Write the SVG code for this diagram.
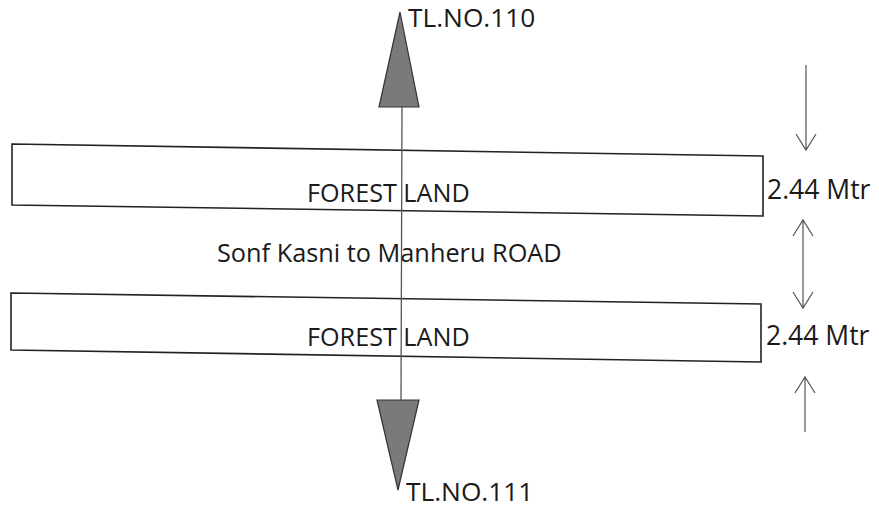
<svg xmlns="http://www.w3.org/2000/svg" width="879" height="515" viewBox="0 0 879 515">
<style>
.t{font-family:"Open Sans","Liberation Sans",sans-serif;fill:#1a1a1a}
.box{fill:none;stroke:#222;stroke-width:1.6}
.dim{fill:none;stroke:#555;stroke-width:1.2}
.tri{fill:#7a7a7a;stroke:#333;stroke-width:1.2}
</style>
<rect width="879" height="515" fill="#fff"/>
<g id="forest-top">
<polygon class="box" points="12,144 763,156 763,216 12,205"/>
<text class="t" x="307" y="202" font-size="25.2">FOREST LAND</text>
</g>
<g id="forest-bottom">
<polygon class="box" points="11,293 761,304 761,362 11,350"/>
<text class="t" x="307" y="346" font-size="25.2">FOREST LAND</text>
</g>
<g id="road">
<text class="t" x="217" y="262" font-size="25.3">Sonf Kasni to Manheru ROAD</text>
</g>
<g id="tl110">
<polygon class="tri" points="400,12 419,107 379,107"/>
<text class="t" x="408" y="27" font-size="26.3">TL.NO.110</text>
</g>
<g id="tl111">
<polygon class="tri" points="377,400 419,400 398,490"/>
<text class="t" x="406" y="501" font-size="26.3">TL.NO.111</text>
</g>
<g id="dim-labels">
<text class="t" x="767" y="199" font-size="26.5">2.44 Mtr</text>
<text class="t" x="766" y="345" font-size="26.5">2.44 Mtr</text>
</g>
<g id="connectors">
<line x1="402" y1="107" x2="401" y2="400" stroke="#555" stroke-width="1.3"/>
<path class="dim" d="M806,65 L806,150 M796,134 L806,150 L816,134"/>
<path class="dim" d="M803,220 L803,308 M793,236 L803,220 L813,236 M793,292 L803,308 L813,292"/>
<path class="dim" d="M805,377 L805,432 M795,393 L805,377 L815,393"/>
</g>
</svg>
